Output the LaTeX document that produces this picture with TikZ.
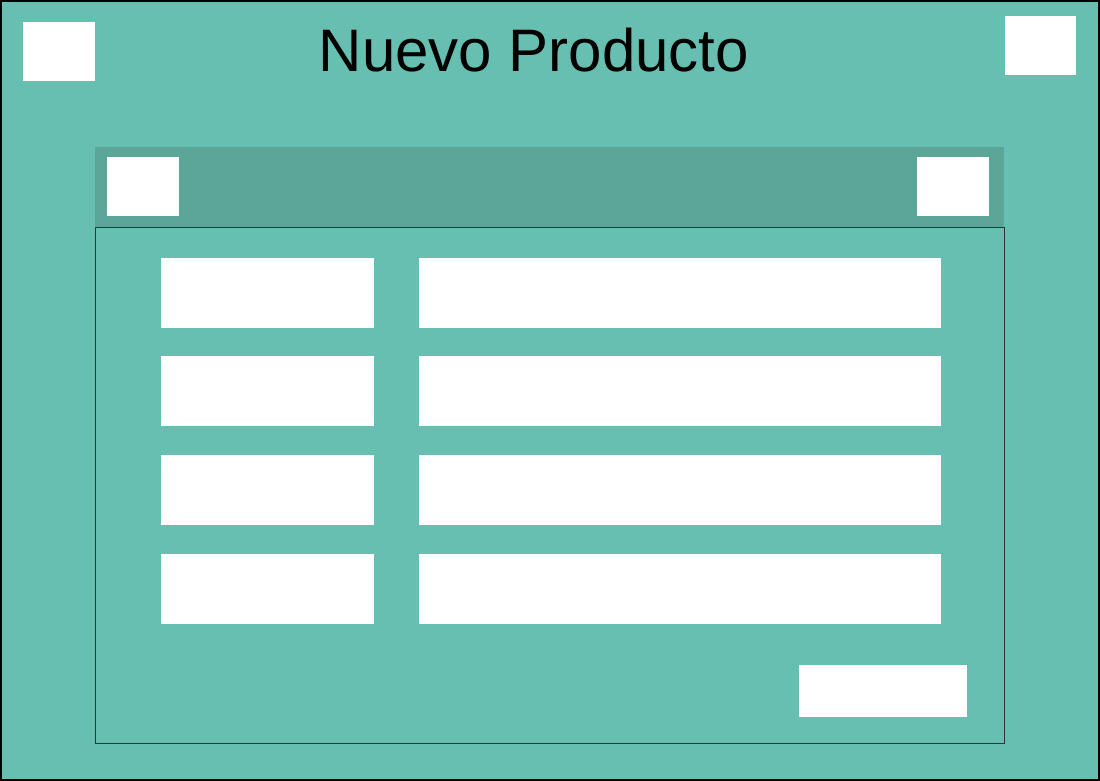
\documentclass[tikz,border=0pt]{standalone}
\usepackage{fontspec}
\setmainfont{Liberation Sans}
\definecolor{fondo}{RGB}{103,191,177}
\definecolor{barra}{RGB}{91,166,153}
\begin{document}
\begin{tikzpicture}[x=1pt,y=-1pt]
   \useasboundingbox (0,0) rectangle (1100,781);
   \fill[color=fondo] (0,0) rectangle (1100,781);
   \draw[line width=2pt] (1,1) rectangle (1099,780);

   \fill[color=white] (23,22) rectangle (95,81);
   \fill[color=white] (1005,16) rectangle (1076,75);
   \node[anchor=base,font=\fontsize{60}{72}\selectfont] (titulo) at (534,71.7) {Nuevo Producto};

   \fill[color=barra] (95,147) rectangle (1004,227);
   \fill[color=white] (107,157) rectangle (179,216);
   \fill[color=white] (917,157) rectangle (989,216);

   \draw[line width=0.8pt,color=black!80] (95,227) rectangle (1004,743);
   \foreach \y in {258,356,455,554} {
      \fill[color=white] (161,\y) rectangle (374,\y+70);
      \fill[color=white] (419,\y) rectangle (941,\y+70);
   }
   \fill[color=white] (799,665) rectangle (967,717);
 \end{tikzpicture}
\end{document}
